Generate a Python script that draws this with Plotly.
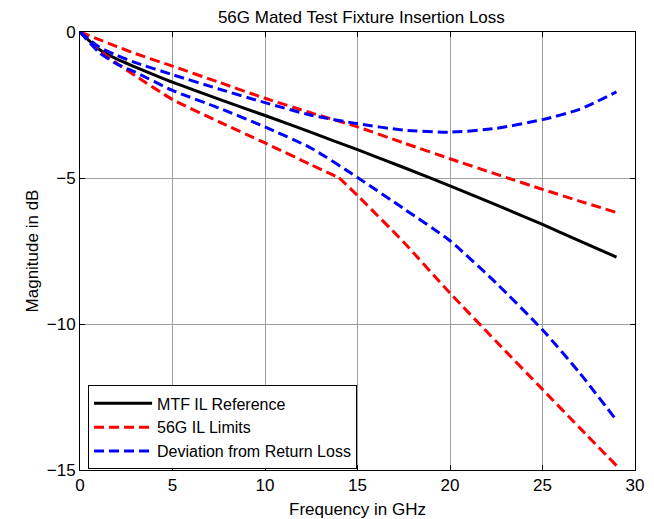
import plotly.graph_objects as go

freq = [0, 1, 2, 3, 5, 7.5, 10, 12.5, 15, 17.5, 20, 22.5, 25, 27, 29]
mtf_ref = [0, -0.58, -0.93, -1.2, -1.72, -2.3, -2.86, -3.44, -4.03, -4.64, -5.27, -5.92, -6.59, -7.15, -7.71]
il_upper = [0, -0.25, -0.5, -0.74, -1.17, -1.72, -2.27, -2.77, -3.25, -3.8, -4.34, -4.87, -5.39, -5.79, -6.18]
dev_upper = [0, -0.5, -0.8, -1.05, -1.46, -1.95, -2.42, -2.85, -3.14, -3.36, -3.43, -3.3, -3.0, -2.65, -2.05]
dev_lower = [0, -0.68, -1.1, -1.38, -2.0, -2.6, -3.25, -3.98, -4.98, -6.05, -7.15, -8.6, -10.2, -11.67, -13.3]

freq_low_a = [0, 1, 2, 3, 5, 7.5, 10, 12.5, 14]
il_lower_a = [0, -0.6, -1.08, -1.5, -2.31, -3.07, -3.8, -4.55, -4.99]
freq_low_b = [14, 15, 17.5, 20, 22.5, 25, 27, 29]
il_lower_b = [-4.99, -5.6, -7.2, -8.94, -10.6, -12.24, -13.55, -14.85]

x_ticks = [0, 5, 10, 15, 20, 25, 30]
y_ticks = [-15, -10, -5, 0]

FONT = "Arial, Liberation Sans, sans-serif"
FS = 17

fig = go.Figure()
fig.add_trace(go.Scatter(x=freq, y=mtf_ref, mode="lines", name="MTF IL Reference",
                         line=dict(color="black", width=3, shape="spline", smoothing=0.6)))
fig.add_trace(go.Scatter(x=freq + [None] + freq_low_a + [None] + freq_low_b,
                         y=il_upper + [None] + il_lower_a + [None] + il_lower_b,
                         mode="lines", name="56G IL Limits", connectgaps=False,
                         line=dict(color="#ff0000", width=3, dash="10px,5px", shape="spline", smoothing=0.6)))
fig.add_trace(go.Scatter(x=freq + [None] + freq, y=dev_upper + [None] + dev_lower,
                         mode="lines", name="Deviation from Return Loss", connectgaps=False,
                         line=dict(color="#0000ff", width=3, dash="10px,5px", shape="spline", smoothing=0.6)))

axis_common = dict(showline=True, linecolor="black", linewidth=1, mirror="ticks",
                   ticks="inside", ticklen=5, tickcolor="black", automargin=False,
                   showgrid=True, gridcolor="#a0a0a0", gridwidth=1, zeroline=False,
                   tickfont=dict(family=FONT, size=FS, color="black"))

fig.update_xaxes(range=[0, 30], tickvals=x_ticks, **axis_common,
                 title=dict(text="Frequency in GHz", font=dict(family=FONT, size=FS, color="black"), standoff=12))
fig.update_yaxes(range=[-15, 0], tickvals=y_ticks, **axis_common,
                 title=dict(text="Magnitude in dB", font=dict(family=FONT, size=FS, color="black"), standoff=3))

fig.update_layout(
    width=646, height=511,
    margin=dict(l=72, r=19, t=24, b=49),
    paper_bgcolor="white", plot_bgcolor="white",
    title=dict(text="56G Mated Test Fixture Insertion Loss", x=0.547, xanchor="center",
               y=0.993, yanchor="top", pad=dict(t=0),
               font=dict(family=FONT, size=FS, color="black")),
    legend=dict(x=0.0145, y=0.193, xanchor="left", yanchor="top",
                bgcolor="white", bordercolor="black", borderwidth=1,
                font=dict(family=FONT, size=16, color="black"), itemwidth=58),
    showlegend=True,
)

fig.write_html("out.html")
